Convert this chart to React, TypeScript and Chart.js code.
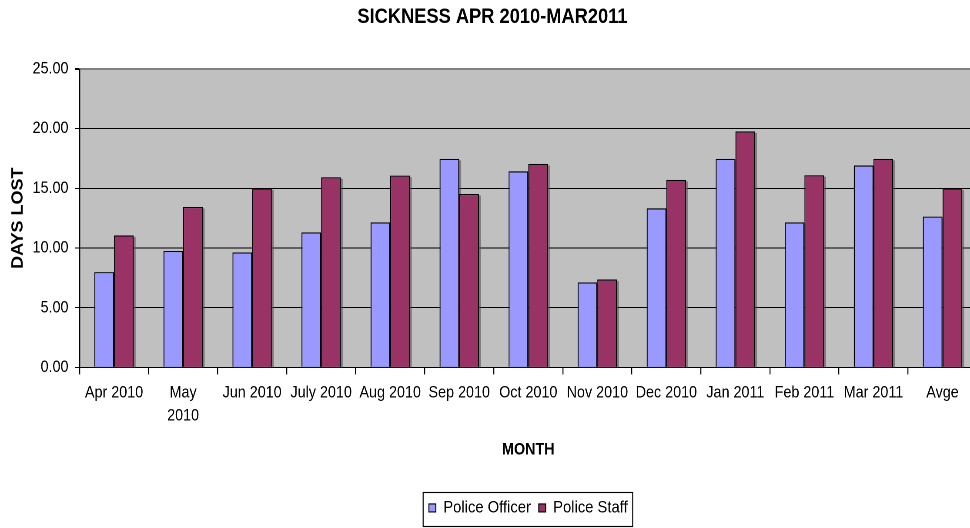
import React, { useEffect, useRef } from 'react';
import { Chart, registerables } from 'chart.js';

Chart.register(...registerables);

// ---- data ----
const months: (string | string[])[] = [
  'Apr 2010', ['May', '2010'], 'Jun 2010', 'July 2010', 'Aug 2010', 'Sep 2010',
  'Oct 2010', 'Nov 2010', 'Dec 2010', 'Jan 2011', 'Feb 2011', 'Mar 2011', 'Avge',
];
const policeOfficer = [7.98, 9.75, 9.63, 11.31, 12.15, 17.47, 16.43, 7.11, 13.33, 17.47, 12.15, 16.91, 12.63];
const policeStaff = [11.06, 13.44, 15.0, 15.93, 16.07, 14.53, 17.05, 7.36, 15.71, 19.77, 16.1, 17.47, 15.0];
const yMin = 0;
const yMax = 25;
const yStep = 5;

const chartTitle = 'SICKNESS APR 2010-MAR2011';
const yTitle = 'DAYS LOST';
const xTitle = 'MONTH';

// ---- presentation ----
const SQUISH = 0.87;
const CANVAS_W = 1140;
const CANVAS_H = 528;
const FONT = "Arial, 'Liberation Sans', Helvetica, sans-serif";

const plotBg = {
  id: 'plotBg',
  beforeDraw(chart: any) {
    const { ctx, chartArea: a } = chart;
    ctx.save();
    ctx.fillStyle = '#C0C0C0';
    ctx.fillRect(a.left, a.top, a.right - a.left, a.bottom - a.top);
    ctx.restore();
  },
};

const barShadow = {
  id: 'barShadow',
  beforeDatasetsDraw(chart: any) {
    const { ctx, chartArea: a } = chart;
    ctx.save();
    ctx.beginPath();
    ctx.rect(a.left, a.top, a.right - a.left, a.bottom - a.top);
    ctx.clip();
    ctx.fillStyle = 'rgba(80,80,80,0.6)';
    chart.data.datasets.forEach((_: any, i: number) => {
      const meta = chart.getDatasetMeta(i);
      meta.data.forEach((el: any) => {
        const p = el.getProps(['x', 'y', 'base', 'width'], true);
        const left = p.x - p.width / 2;
        const top = Math.min(p.y, p.base);
        const h = Math.abs(p.base - p.y);
        ctx.fillRect(left + 2.2, top + 1.5, p.width, h);
      });
    });
    ctx.restore();
  },
};

const legendFrame = {
  id: 'legendFrame',
  afterDraw(chart: any) {
    const lg = chart.legend;
    if (!lg || !lg.legendHitBoxes || !lg.legendHitBoxes.length) return;
    const hb = lg.legendHitBoxes;
    const first = hb[0];
    const last = hb[hb.length - 1];
    const cy = first.top + first.height / 2;
    const left = first.left - 6.6;
    const right = last.left + last.width + 5.8;
    const top = Math.round(cy - 15.7) + 0.5;
    const bottom = Math.round(cy + 17.6) + 0.5;
    const ctx = chart.ctx;
    ctx.save();
    ctx.strokeStyle = '#000';
    ctx.lineWidth = 1.15;
    ctx.strokeRect(left, top, right - left, bottom - top);
    ctx.restore();
  },
};

export default function App() {
  const canvasRef = useRef<HTMLCanvasElement | null>(null);

  useEffect(() => {
    if (!canvasRef.current) return;
    const chart = new Chart(canvasRef.current, {
      type: 'bar',
      data: {
        labels: months as any,
        datasets: [
          {
            label: 'Police Officer',
            data: policeOfficer,
            backgroundColor: '#9999FF',
            borderColor: '#000000',
            borderWidth: 1.15,
            categoryPercentage: 0.57,
            barPercentage: 1,
          },
          {
            label: 'Police Staff',
            data: policeStaff,
            backgroundColor: '#993366',
            borderColor: '#000000',
            borderWidth: 1.15,
            categoryPercentage: 0.57,
            barPercentage: 1,
          },
        ],
      },
      options: {
        responsive: false,
        devicePixelRatio: 2,
        animation: false,
        events: [],
        layout: { padding: { left: 9, right: 17, top: 0, bottom: 1.6 } },
        plugins: {
          tooltip: { enabled: false },
          title: {
            display: true,
            text: chartTitle,
            color: '#000',
            font: { family: FONT, size: 21, weight: 'bold', lineHeight: 1.2 },
            padding: { top: 4.5, bottom: 39.3 },
          },
          legend: {
            position: 'bottom',
            fullSize: false,
            labels: {
              boxWidth: 8,
              boxHeight: 8,
              padding: 9,
              color: '#000',
              font: { family: FONT, size: 17 },
            },
          },
        },
        scales: {
          x: {
            type: 'category',
            offset: true,
            grid: {
              display: true,
              offset: true,
              drawOnChartArea: false,
              drawTicks: true,
              tickLength: 7,
              color: '#000',
              lineWidth: 1.15,
            },
            border: { display: true, color: '#000', width: 1 },
            ticks: {
              autoSkip: false,
              maxRotation: 0,
              minRotation: 0,
              padding: 7,
              color: '#000',
              font: { family: FONT, size: 16.5, lineHeight: 23 / 16.5 },
            },
            title: {
              display: true,
              text: xTitle,
              color: '#000',
              font: { family: FONT, size: 16.5, weight: 'bold', lineHeight: 1.2 },
              padding: { top: 0, bottom: 30.3 },
            },
            afterFit(scale: any) {
              scale.height = 123;
            },
          },
          y: {
            min: yMin,
            max: yMax,
            ticks: {
              stepSize: yStep,
              padding: 7.7,
              color: '#000',
              font: { family: FONT, size: 16.5 },
              callback: (v: any) => Number(v).toFixed(2),
            },
            grid: {
              color: (c: any) => (c.tick && c.tick.value === yMax ? '#808080' : '#000'),
              lineWidth: (c: any) => (c.tick && c.tick.value === yMax ? 2 : 1),
              tickColor: '#000',
              tickLength: 5,
              drawTicks: true,
            },
            border: { display: true, color: '#000', width: 1.2 },
            title: {
              display: true,
              text: yTitle,
              color: '#000',
              font: { family: FONT, size: 18, weight: 'bold', lineHeight: 1.2 },
              padding: { top: 1.2, bottom: 0 },
            },
            afterFit(scale: any) {
              scale.width = 82.4;
            },
          },
        },
      } as any,
      plugins: [plotBg, barShadow, legendFrame],
    });
    return () => chart.destroy();
  }, []);

  return (
    <div
      style={{
        position: 'fixed',
        left: 0,
        top: 0,
        width: 970,
        height: CANVAS_H,
        overflow: 'hidden',
        background: '#fff',
      }}
    >
      <div
        style={{
          width: CANVAS_W,
          height: CANVAS_H,
          transform: `scaleX(${SQUISH})`,
          transformOrigin: '0 0',
        }}
      >
        <canvas
          ref={canvasRef}
          width={CANVAS_W}
          height={CANVAS_H}
          style={{ display: 'block', width: CANVAS_W, height: CANVAS_H }}
        />
      </div>
    </div>
  );
}
